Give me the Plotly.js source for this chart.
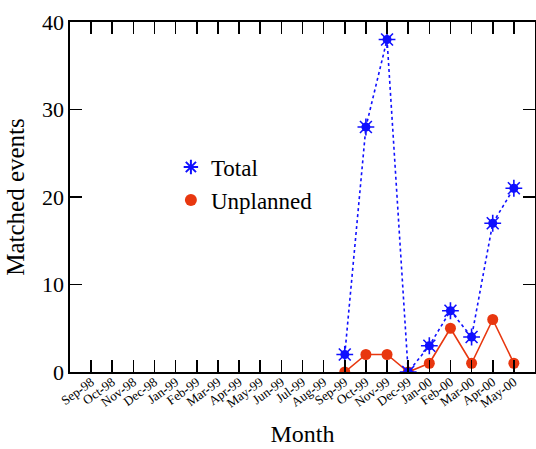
<!DOCTYPE html>
<html>
<head>
<meta charset="utf-8">
<script src="https://cdn.plot.ly/plotly-3.0.1.min.js"></script>
<style>html,body{margin:0;padding:0;background:#fff;}#chart{width:536px;height:449px;}</style>
</head>
<body>
<div id="chart"></div>
<script>
const months = ["Sep-98","Oct-98","Nov-98","Dec-98","Jan-99","Feb-99","Mar-99","Apr-99","May-99","Jun-99","Jul-99","Aug-99","Sep-99","Oct-99","Nov-99","Dec-99","Jan-00","Feb-00","Mar-00","Apr-00","May-00"];
const dataMonths = ["Sep-99","Oct-99","Nov-99","Dec-99","Jan-00","Feb-00","Mar-00","Apr-00","May-00"];
const totalValues = [2, 28, 38, 0, 3, 7, 4, 17, 21];
const unplannedValues = [0, 2, 2, 0, 1, 5, 1, 6, 1];
const yTicks = [0, 10, 20, 30, 40];

const blue = '#1010ff';
const red = '#e8370f';
const serif = "'Liberation Serif', 'Times New Roman', Times, serif";

const traces = [
  {
    x: dataMonths, y: totalValues, type: 'scatter', mode: 'lines',
    line: {color: blue, width: 1.6, dash: 'dot'}, showlegend: false, hoverinfo: 'skip'
  },
  {
    x: dataMonths, y: unplannedValues, type: 'scatter', mode: 'lines',
    line: {color: red, width: 1.6}, showlegend: false
  },
  {
    x: dataMonths, y: unplannedValues, type: 'scatter', mode: 'markers', name: 'Unplanned',
    marker: {symbol: 'circle', size: 11, color: red}
  },
  {
    x: dataMonths, y: totalValues, type: 'scatter', mode: 'markers', showlegend: false,
    marker: {symbol: 'circle', size: 9, color: blue}
  },
  {
    x: dataMonths, y: totalValues, type: 'scatter', mode: 'markers', name: 'Total',
    marker: {symbol: 'asterisk-open', size: 14, color: blue, line: {color: blue, width: 1.6}}
  }
];

const layout = {
  width: 536, height: 449,
  margin: {l: 70, r: 1, t: 22, b: 77},
  paper_bgcolor: '#fff', plot_bgcolor: '#fff',
  font: {family: serif, color: '#000'},
  showlegend: true,
  legend: {
    x: 0.217, y: 0.647, xanchor: 'left', yanchor: 'top',
    font: {family: serif, size: 23, color: '#000'},
    traceorder: 'reversed', tracegroupgap: 0,
    bgcolor: 'rgba(0,0,0,0)', itemsizing: 'constant'
  },
  xaxis: {
    type: 'category', categoryorder: 'array', categoryarray: months,
    tickvals: months, ticktext: months,
    range: [-1, 21],
    showgrid: false, zeroline: false,
    showline: true, linecolor: '#000', linewidth: 1.6, mirror: 'ticks',
    ticks: 'inside', ticklen: 12, tickwidth: 1.6, tickcolor: '#000',
    tickangle: -36,
    ticklabelstandoff: -4,
    tickfont: {family: serif, size: 13, color: '#000'},
    title: {text: 'Month', font: {family: serif, size: 24, color: '#000'}, standoff: 15}
  },
  yaxis: {
    range: [0, 40],
    tickvals: yTicks,
    showgrid: false, zeroline: false,
    showline: true, linecolor: '#000', linewidth: 1.6, mirror: 'ticks',
    ticks: 'inside', ticklen: 12, tickwidth: 1.6, tickcolor: '#000',
    tickfont: {family: serif, size: 22, color: '#000'},
    title: {text: 'Matched events', font: {family: serif, size: 25, color: '#000'}, standoff: 10}
  }
};

Plotly.newPlot('chart', traces, layout, {displayModeBar: false, staticPlot: true});
</script>
</body>
</html>
